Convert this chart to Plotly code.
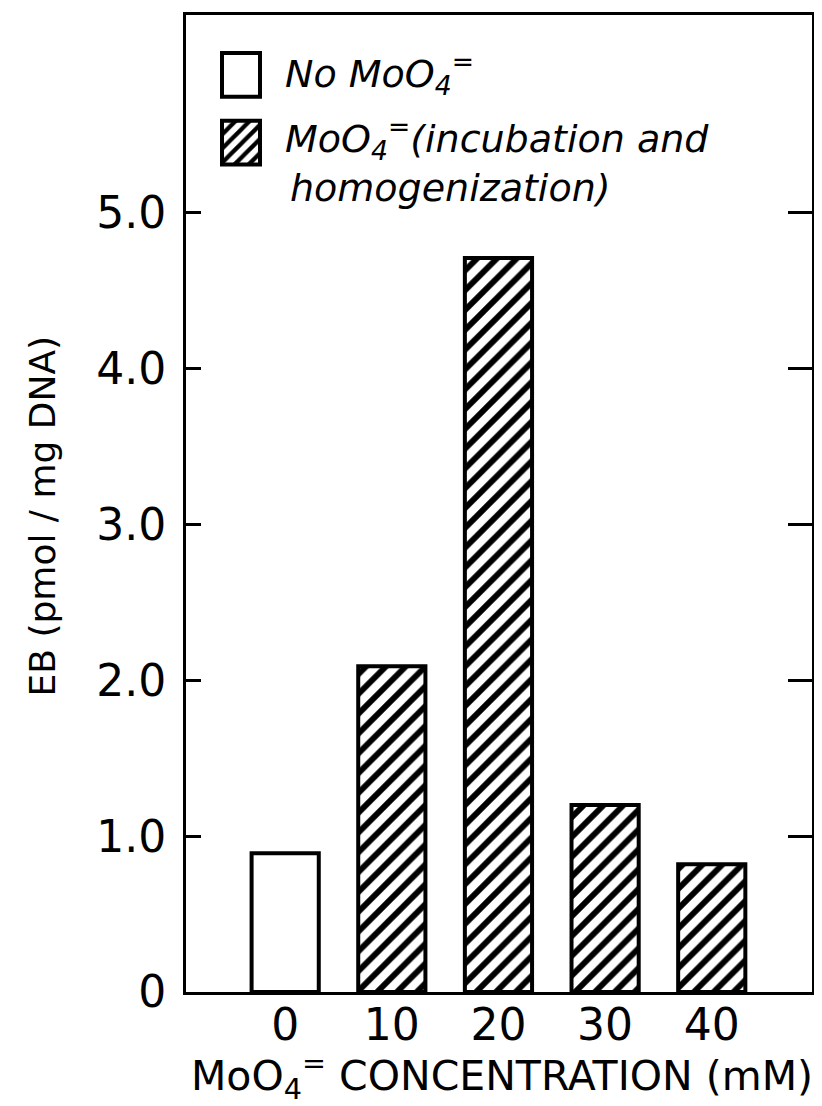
import plotly.graph_objects as go

# ---- data ----
concentrations = ["0", "10", "20", "30", "40"]
eb_values = [0.89, 2.09, 4.71, 1.20, 0.82]
bar_patterns = ["", "/", "/", "/", "/"]
y_tick_vals = [0, 1, 2, 3, 4, 5]
y_tick_text = ["0", "1.0", "2.0", "3.0", "4.0", "5.0"]
legend_labels = ["No MoO<sub>4</sub><sup>=</sup>",
                 "MoO<sub>4</sub><sup>=</sup>(incubation and",
                 "homogenization)"]
legend_patterns = ["", "/"]

FONT = "DejaVu Sans"
OFF = 8  # page body margin
W, H = 822 - OFF, 1106 - OFF
L, R, T, B = 178, 10, 4, 114
PW, PH = W - L - R, H - T - B


def px_x(p):
    return (p - OFF - L) / PW


def px_y(p):
    return (H - B - (p - OFF)) / PH


fig = go.Figure()

fig.add_trace(go.Bar(
    x=concentrations, y=eb_values, width=0.63,
    marker=dict(color="white",
                line=dict(color="black", width=4),
                pattern=dict(shape=bar_patterns, fgcolor="black", bgcolor="white",
                             fgopacity=1, size=14, solidity=0.42, fillmode="overlay")),
    showlegend=False, hoverinfo="skip"))

# invisible trace for right-hand axis
fig.add_trace(go.Scatter(x=[concentrations[0]], y=[0], yaxis="y2", mode="markers",
                         marker=dict(opacity=0), showlegend=False, hoverinfo="skip"))

# legend swatches on an overlay axis in paper-like units
sw_x0, sw_x1 = px_x(222), px_x(260)
sw_tops = [px_y(50), px_y(118)]
sw_h = px_y(50) - px_y(94)
fig.add_trace(go.Bar(
    x=[(sw_x0 + sw_x1) / 2] * 2, y=[sw_h] * 2, base=[t - sw_h for t in sw_tops],
    width=sw_x1 - sw_x0, xaxis="x3", yaxis="y3",
    marker=dict(color="white", line=dict(color="black", width=4),
                pattern=dict(shape=legend_patterns, fgcolor="black", bgcolor="white",
                             fgopacity=1, size=10, solidity=0.42, fillmode="overlay")),
    showlegend=False, hoverinfo="skip"))

yrange = [0, 6.27]
fig.update_layout(
    width=W, height=H,
    margin=dict(l=L, r=R, t=T, b=B),
    paper_bgcolor="white", plot_bgcolor="white",
    barmode="overlay",
    font=dict(family=FONT, color="black"),
    xaxis=dict(type="category", range=[-0.93, 4.94], showline=True, linecolor="black",
               linewidth=3, mirror=True, ticks="", showgrid=False, zeroline=False,
               tickfont=dict(size=44, family=FONT), ticklabelstandoff=-8),
    yaxis=dict(range=yrange, tickvals=y_tick_vals, ticktext=y_tick_text,
               ticks="inside", ticklen=15, tickwidth=3, tickcolor="black",
               showline=True, linecolor="black", linewidth=3, showgrid=False,
               zeroline=False, tickfont=dict(size=44, family=FONT), ticklabelstandoff=8),
    yaxis2=dict(range=yrange, overlaying="y", side="right", tickvals=y_tick_vals,
                ticks="inside", ticklen=24, tickwidth=3, tickcolor="black",
                showline=True, linecolor="black", linewidth=3, showticklabels=False,
                showgrid=False, zeroline=False),
    xaxis3=dict(overlaying="x", range=[0, 1], visible=False, anchor="y3"),
    yaxis3=dict(overlaying="y", range=[0, 1], visible=False, anchor="x3"),
)

annotations = [
    dict(text="MoO<sub>4</sub><sup>=</sup> CONCENTRATION (mM)", x=px_x(502), y=px_y(1076),
         xref="paper", yref="paper", showarrow=False, xanchor="center", yanchor="middle",
         font=dict(size=41, family=FONT)),
    dict(text="EB (pmol / mg DNA)", x=px_x(42), y=px_y(515), textangle=-90,
         xref="paper", yref="paper", showarrow=False, xanchor="center", yanchor="middle",
         font=dict(size=36, family=FONT)),
    dict(text="<i>" + legend_labels[0] + "</i>", x=px_x(283), y=px_y(71),
         xref="paper", yref="paper", showarrow=False, xanchor="left", yanchor="middle",
         font=dict(size=38, family=FONT)),
    dict(text="<i>" + legend_labels[1] + "</i>", x=px_x(283), y=px_y(136),
         xref="paper", yref="paper", showarrow=False, xanchor="left", yanchor="middle",
         font=dict(size=38, family=FONT)),
    dict(text="<i>" + legend_labels[2] + "</i>", x=px_x(288), y=px_y(186),
         xref="paper", yref="paper", showarrow=False, xanchor="left", yanchor="middle",
         font=dict(size=38, family=FONT)),
]
fig.update_layout(annotations=annotations)

fig.write_html("out.html")
